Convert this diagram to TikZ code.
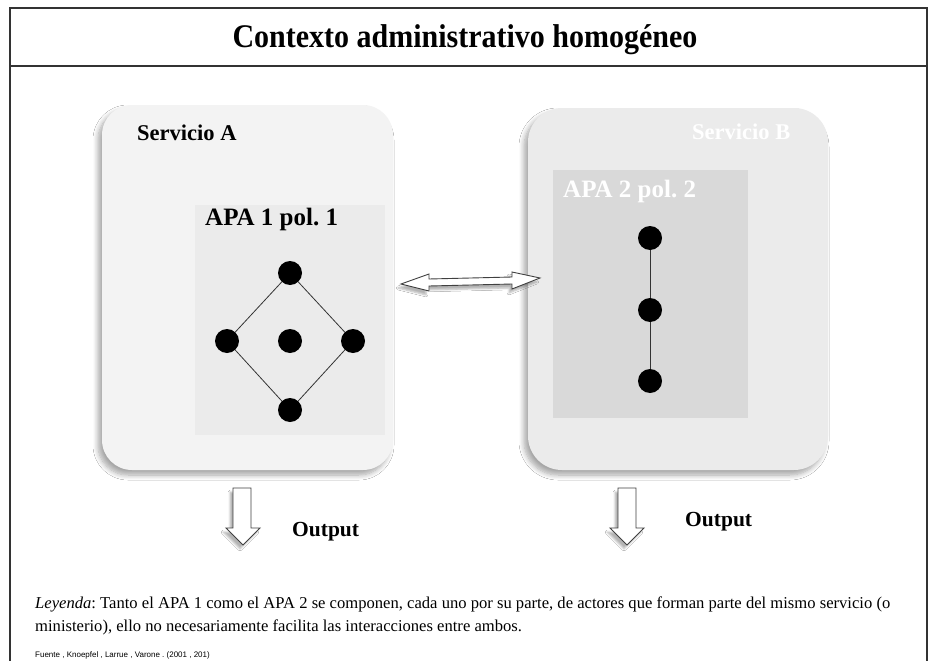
\documentclass[tikz,border=0pt]{standalone}
\usepackage{fontspec}
\setmainfont{Liberation Serif}
\setsansfont{Liberation Sans}
\usetikzlibrary{shadows.blur}
\definecolor{frame}{HTML}{333333}
\definecolor{svcA}{HTML}{F3F3F3}
\definecolor{apaA}{HTML}{EBEBEB}
\definecolor{svcB}{HTML}{EBEBEB}
\definecolor{apaB}{HTML}{D9D9D9}
\frenchspacing
\tikzset{
  svcbox/.style={rounded corners=30pt, draw=none, blur shadow={shadow xshift=-4pt, shadow yshift=-5pt, shadow blur steps=8, shadow blur radius=5pt, shadow opacity=35}},
  bullet/.style={circle, fill=black, minimum size=24pt, inner sep=0pt},
  blockarrow/.style={draw=black!75, line width=0.9pt, fill=white, blur shadow={shadow xshift=-3pt, shadow yshift=-4pt, shadow blur steps=5, shadow opacity=30}},
  lbl/.style={font=\bfseries\fontsize{22.5}{25}\selectfont, anchor=west, inner sep=0pt},
  apalbl/.style={font=\bfseries\fontsize{25}{28}\selectfont, anchor=west, inner sep=0pt},
  outlbl/.style={font=\bfseries\fontsize{21.5}{24}\selectfont, anchor=west, inner sep=0pt},
}
\begin{document}
\begin{tikzpicture}[x=1pt,y=-1pt]
\useasboundingbox (0,0) rectangle (929,661);
\clip (0,0) rectangle (929,661);
\fill[white] (0,0) rectangle (929,661);
% frame
\draw[frame, line width=1.4pt] (10,8) rectangle (927,700);
\draw[frame, line width=1.4pt] (10,66) -- (927,66);
\node[font=\bfseries\fontsize{30}{33}\selectfont, inner sep=0pt, yscale=1.1] (title) at (465,40) {Contexto administrativo homogéneo};
% Servicio A
\fill[svcA, svcbox] (102,105) rectangle (393,470);
\node[lbl] (sA) at (137,133) {Servicio A};
\fill[apaA] (195,205) rectangle (385,435);
\node[apalbl] (apa1) at (205,219) {APA 1 pol. 1};
\node[bullet] (a1) at (290,273) {};
\node[bullet] (a2) at (227,341) {};
\node[bullet] (a3) at (290,341) {};
\node[bullet] (a4) at (353,341) {};
\node[bullet] (a5) at (290,410) {};
\draw[black!80, line width=0.8pt] (a1) -- (a2) -- (a5) -- (a4) -- (a1);
% Servicio B
\fill[svcB, svcbox, rounded corners=34pt] (528,108) rectangle (828,470);
\node[lbl, text=white] (sB) at (692,132) {Servicio B};
\fill[apaB] (553,170) rectangle (748,418);
\node[apalbl, text=white] (apa2) at (563,191) {APA 2 pol. 2};
\node[bullet] (b1) at (650,238) {};
\node[bullet] (b2) at (650,310) {};
\node[bullet] (b3) at (650,381) {};
\draw[black!80, line width=0.8pt] (b1) -- (b2) -- (b3);
% double arrow
\draw[blockarrow] (401,284) -- (429,274) -- (429,279) -- (512,277) -- (512,272) -- (540,278) -- (512,289) -- (512,284) -- (429,286) -- (429,291) -- cycle;
% down arrows
\draw[blockarrow] (233,488) -- (251,488) -- (251,528) -- (260,528) -- (243,545) -- (226,528) -- (233,528) -- cycle;
\node[outlbl] (o1) at (292,532) {Output};
\draw[blockarrow] (618,488) -- (636,488) -- (636,528) -- (644,528) -- (627,545) -- (610,528) -- (618,528) -- cycle;
\node[outlbl] (o2) at (685,522) {Output};
% legend
\node[anchor=base west, align=left, inner sep=0pt, font=\fontsize{16.6}{23}\selectfont] (leg) at (35,631)
  {\textit{Leyenda}: Tanto el APA 1 como el APA 2 se componen, cada uno por su parte, de actores que forman parte del mismo servicio (o\\ministerio), ello no necesariamente facilita las interacciones entre ambos.};
\node[anchor=west, inner sep=0pt, font=\sffamily\fontsize{8}{10}\selectfont] (src) at (35,655) {Fuente , Knoepfel , Larrue , Varone . (2001 , 201)};
\end{tikzpicture}
\end{document}
